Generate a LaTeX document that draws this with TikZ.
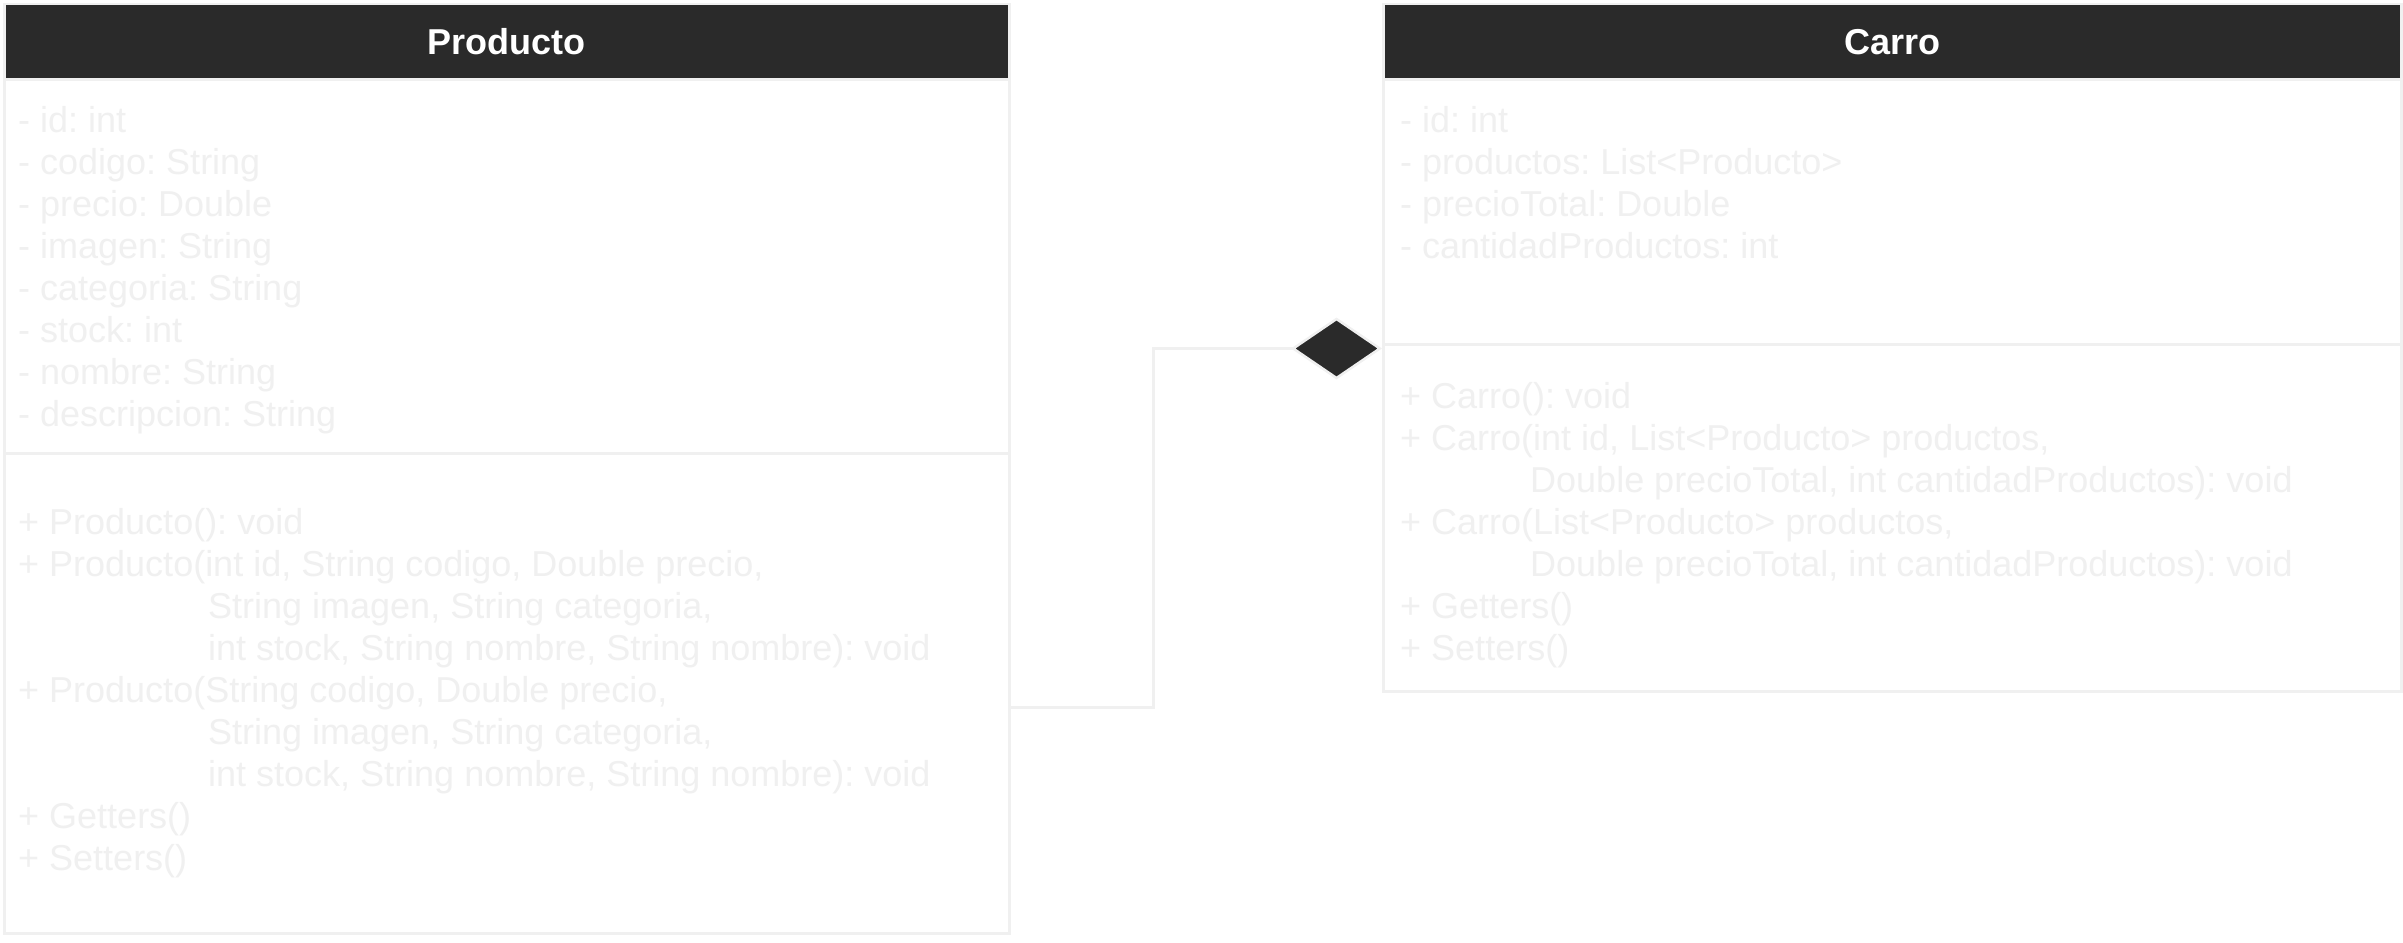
\documentclass[tikz,border=0pt]{standalone}
\usepackage{fontspec}
\setmainfont{Liberation Sans}
\usetikzlibrary{arrows.meta}
\definecolor{lite}{HTML}{F0F0F0}
\definecolor{dark}{HTML}{2A2A2A}
\frenchspacing
\begin{document}
\begin{tikzpicture}[x=1pt,y=-1pt,
  hdr/.style={draw=lite, fill=dark, line width=2.5pt, anchor=north west, inner sep=0pt, text=white, font=\fontsize{36}{42}\selectfont\bfseries},
  comp/.style={draw=lite, fill=white, line width=2.5pt, anchor=north west, inner sep=0pt},
  txt/.style={anchor=base west, inner sep=0pt, text=lite, font=\fontsize{36}{42}\selectfont},
  assoc/.style={draw=lite, line width=2.5pt, -{Diamond[length=91pt,width=62pt,fill=dark]}}]
\useasboundingbox (0,0) rectangle (2403,942);
% Producto
\node[hdr, minimum width=1005pt, minimum height=75pt] (ph) at (3,3) {Producto};
\node[comp, minimum width=1005pt, minimum height=374pt] (pa) at (3,78) {};
\node[comp, minimum width=1005pt, minimum height=480pt] (pm) at (3,452) {};
\foreach \t [count=\i from 0] in {{- id: int},{- codigo: String},{- precio: Double},{- imagen: String},{- categoria: String},{- stock: int},{- nombre: String},{- descripcion: String}}
  \node[txt] (pa\i) at (18,132+42*\i) {\t};
\foreach \xx/\t [count=\i from 0] in {18/{+ Producto(): void},18/{+ Producto(int id, String codigo, Double precio,},208/{String imagen, String categoria,},208/{int stock, String nombre, String nombre): void},18/{+ Producto(String codigo, Double precio,},208/{String imagen, String categoria,},208/{int stock, String nombre, String nombre): void},18/{+ Getters()},18/{+ Setters()}}
  \node[txt] (pm\i) at (\xx,534+42*\i) {\t};
% Carro
\node[hdr, minimum width=1018pt, minimum height=75pt] (ch) at (1382,3) {Carro};
\node[comp, minimum width=1018pt, minimum height=265pt] (ca) at (1382,78) {};
\node[comp, minimum width=1018pt, minimum height=347pt] (cm) at (1382,343) {};
\foreach \t [count=\i from 0] in {{- id: int},{- productos: List<Producto>},{- precioTotal: Double},{- cantidadProductos: int}}
  \node[txt] (ca\i) at (1400,132+42*\i) {\t};
\foreach \xx/\t [count=\i from 0] in {1400/{+ Carro(): void},1400/{+ Carro(int id, List<Producto> productos,},1530/{Double precioTotal, int cantidadProductos): void},1400/{+ Carro(List<Producto> productos,},1530/{Double precioTotal, int cantidadProductos): void},1400/{+ Getters()},1400/{+ Setters()}}
  \node[txt] (cm\i) at (\xx,408+42*\i) {\t};
% association
\draw[assoc] ([yshift=-14pt]pm.east) -- ++(143,0) |- ([yshift=-3pt]ca.south west);
\end{tikzpicture}
\end{document}
